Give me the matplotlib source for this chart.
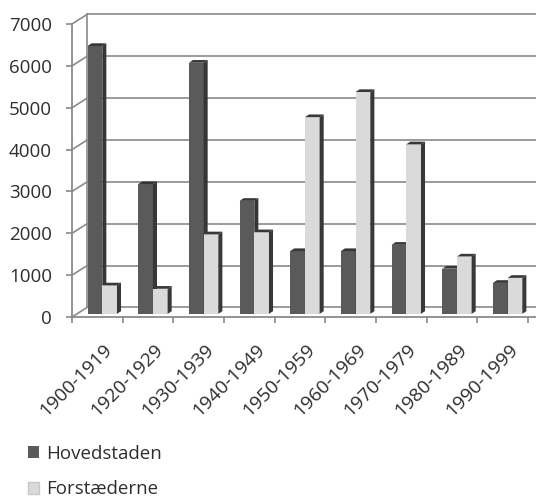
import numpy as np
import matplotlib.pyplot as plt
import matplotlib.transforms as mtransforms
from matplotlib.patches import Polygon, Patch

periods = ['1900-1919', '1920-1929', '1930-1939', '1940-1949', '1950-1959',
           '1960-1969', '1970-1979', '1980-1989', '1990-1999']
hovedstaden = [6400, 3100, 6000, 2700, 1500, 1500, 1650, 1080, 740]
forstaederne = [680, 600, 1900, 1950, 4700, 5300, 4050, 1370, 860]
y_ticks = [0, 1000, 2000, 3000, 4000, 5000, 6000, 7000]

plt.rcParams['font.family'] = ['Open Sans', 'DejaVu Sans']

grid_color = '#8a8a8a'
text_color = '#2e2e2e'
hov_front, hov_dark = '#5a5a5a', '#363636'
for_front, for_dark = '#dadada', '#383838'

fig = plt.figure(figsize=(5.36, 5.00), dpi=100)
ax = fig.add_axes([72 / 536, 183 / 500, 456 / 536, 293 / 500])
ax.set_xlim(0, 9)
ax.set_ylim(0, 7000)
for s in ax.spines.values():
    s.set_visible(False)

# depth of the back wall, and where the bars sit inside that depth
dx, dy = 0.296, 227
sx, sy = 0.33 * dx, 0.33 * dy
bx, by = 0.08, 64
w = 0.29

# back wall, left wall and floor
for v in y_ticks:
    ax.plot([0, dx], [v, v + dy], color=grid_color, lw=1.2, clip_on=False, zorder=1)
    ax.plot([dx, 9 + dx + 0.5], [v + dy, v + dy], color=grid_color, lw=1.2,
            clip_on=False, zorder=1)
ax.plot([dx, dx], [dy, 7000 + dy], color=grid_color, lw=1.2, clip_on=False, zorder=1)
ax.plot([0, 0], [0, 7000], color=grid_color, lw=1.3, clip_on=False, zorder=5)
ax.plot([0, 9.5], [0, 0], color=grid_color, lw=1.3, clip_on=False, zorder=5)


def draw_bar(x0, h, front, dark, z):
    ax.bar(x0, h, w, bottom=sy, align='edge', color=front, lw=0, zorder=z)
    x1, top = x0 + w, sy + h
    side = [(x1, sy), (x1 + bx, sy + by), (x1 + bx, top + by), (x1, top)]
    cap = [(x0, top), (x0 + bx, top + by), (x1 + bx, top + by), (x1, top)]
    ax.add_patch(Polygon(side, closed=True, color=dark, lw=0, zorder=z, clip_on=False))
    ax.add_patch(Polygon(cap, closed=True, color=dark, lw=0, zorder=z, clip_on=False))


x = np.arange(len(periods))
for i in x:
    c = i + 0.5 + sx
    draw_bar(c - w, hovedstaden[i], hov_front, hov_dark, 3)
    draw_bar(c, forstaederne[i], for_front, for_dark, 4)

ax.set_yticks(y_ticks)
ax.set_yticklabels([str(v) for v in y_ticks])
ax.tick_params(axis='y', length=4.5, width=1.2, color=grid_color, pad=10,
               labelsize=13.5, labelcolor=text_color)

ax.set_xticks(x + 0.5 + sx)
ax.set_xticklabels(periods, rotation=45, ha='right', rotation_mode='anchor')
ax.tick_params(axis='x', length=0, pad=17, labelsize=13.8, labelcolor=text_color)
ax.set_xticks(np.arange(0, 10), minor=True)
ax.tick_params(axis='x', which='minor', length=4, width=1.2, color=grid_color)
shift = mtransforms.ScaledTranslation(1 / 100, 0, fig.dpi_scale_trans)
for lbl in ax.get_xticklabels():
    lbl.set_transform(lbl.get_transform() + shift)

handles = [Patch(facecolor=hov_front, edgecolor='none', label='Hovedstaden'),
           Patch(facecolor=for_front, edgecolor='#c8c8c8', label='Forstæderne')]
fig.legend(handles=handles, loc='upper left', bbox_to_anchor=(0.052, 0.110),
           frameon=False, fontsize=13.5, handlelength=0.6, handleheight=0.6,
           handletextpad=0.35, labelspacing=0.93, labelcolor=text_color,
           borderaxespad=0, borderpad=0)

fig.savefig('out.png', dpi=100, facecolor='white')
